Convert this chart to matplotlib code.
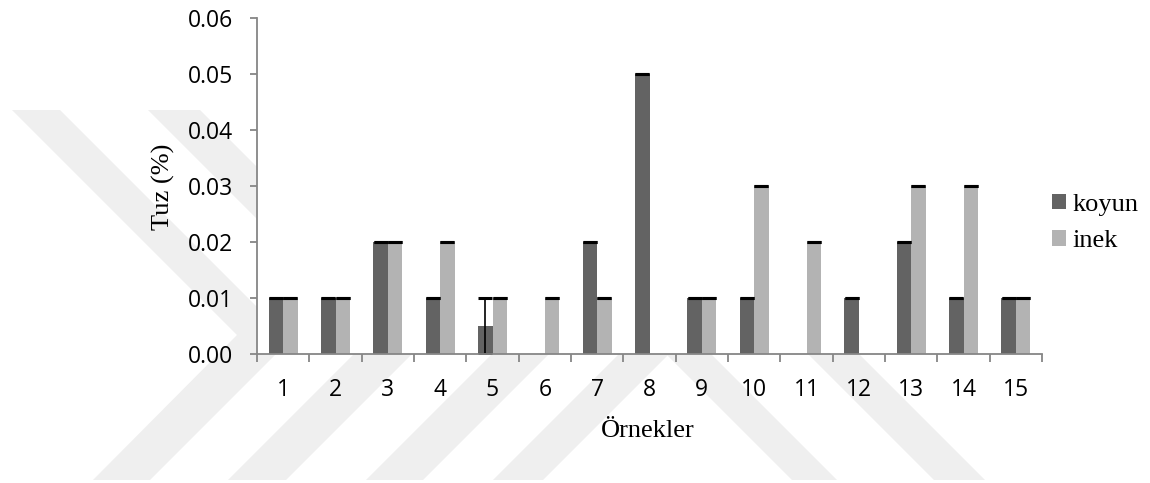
import matplotlib
matplotlib.use('Agg')
import matplotlib.pyplot as plt
from matplotlib.patches import Polygon, Patch
from matplotlib.ticker import FormatStrFormatter, FixedLocator
import numpy as np

# veriler
samples = [str(i) for i in range(1, 16)]
koyun = [0.01, 0.01, 0.02, 0.01, 0.005, 0.0, 0.02, 0.05, 0.01, 0.01, 0.0, 0.01, 0.02, 0.01, 0.01]
inek = [0.01, 0.01, 0.02, 0.02, 0.01, 0.01, 0.01, 0.0, 0.01, 0.03, 0.02, 0.0, 0.03, 0.03, 0.01]
koyun_err = [0, 0, 0, 0, 0.005, 0, 0, 0, 0, 0, 0, 0, 0, 0, 0]
inek_err = [0] * 15
yticks = [0.0, 0.01, 0.02, 0.03, 0.04, 0.05, 0.06]

plt.rcParams['font.serif'] = ['Liberation Serif', 'DejaVu Serif']

W, H = 1150, 483
fig = plt.figure(figsize=(W / 100, H / 100), dpi=100)
fig.patch.set_facecolor('white')


def px(pts):
    return [(x / W, 1 - y / H) for x, y in pts]


# arka plandaki filigran şeritleri (piksel koordinatları)
stripes = [
    [(12, 110), (60, 110), (290, 340), (150, 480), (93, 480), (237, 335)],
    [(148, 110), (200, 110), (428, 338), (286, 480), (228, 480), (373, 335)],
    [(506, 340), (563, 340), (423, 480), (366, 480)],
    [(633, 340), (683, 340), (543, 480), (493, 480)],
    [(652, 340), (697, 340), (837, 480), (792, 480)],
    [(794, 340), (845, 340), (985, 480), (934, 480)],
]
for s in stripes:
    fig.patches.append(Polygon(px(s), closed=True, transform=fig.transFigure,
                               facecolor='#efefef', edgecolor='none', zorder=-1))

ax = fig.add_axes([257 / W, 1 - 354 / H, 785 / W, 336 / H])
ax.set_facecolor('white')

x = np.arange(1, 16)
w = 0.275
c_koyun = '#636363'
c_inek = '#b3b3b3'

ax.bar(x - w / 2, koyun, w, color=c_koyun, zorder=1)
ax.bar(x + w / 2, inek, w, color=c_inek, zorder=1)

# hata çubukları (sıfır olmayan değerler için)
for xs, vals, errs in [(x - w / 2, koyun, koyun_err), (x + w / 2, inek, inek_err)]:
    vals = np.array(vals)
    errs = np.array(errs)
    m = vals > 0
    ax.errorbar(xs[m], vals[m], yerr=errs[m], fmt='none', ecolor='black',
                elinewidth=1.2, capsize=5.0, capthick=2.2, zorder=2)

ax.set_xlim(0.5, 15.5)
ax.set_ylim(0, 0.06)
ax.set_yticks(yticks)
ax.yaxis.set_major_formatter(FormatStrFormatter('%.2f'))
ax.set_xticks(x)
ax.set_xticklabels(samples)
ax.xaxis.set_minor_locator(FixedLocator(np.arange(0.5, 16, 1)))

for sp in ['top', 'right']:
    ax.spines[sp].set_visible(False)
for sp in ['left', 'bottom']:
    ax.spines[sp].set_color('#868686')
    ax.spines[sp].set_linewidth(1.3)

ax.tick_params(axis='x', which='major', length=0, pad=17)
ax.tick_params(axis='x', which='minor', length=6, width=1.3, color='#868686')
ax.tick_params(axis='y', length=5, width=1.3, color='#868686', pad=12)
for lab in ax.get_xticklabels() + ax.get_yticklabels():
    lab.set_fontfamily('Open Sans')
    lab.set_fontsize(16.5)

fig.text(163 / W, 1 - 187 / H, 'Tuz (%)', rotation=90, ha='center', va='center',
         fontfamily='serif', fontsize=19)
fig.text(648 / W, 1 - 431 / H, 'Örnekler', ha='center', va='center',
         fontfamily='serif', fontsize=19)

handles = [Patch(facecolor=c_koyun), Patch(facecolor=c_inek)]
fig.legend(handles, ['koyun', 'inek'], loc='center left',
           bbox_to_anchor=(1052 / W, 1 - 223 / H), frameon=False,
           prop={'family': 'serif', 'size': 19},
           handlelength=0.53, handleheight=0.53, handletextpad=0.25,
           labelspacing=0.55, borderpad=0, borderaxespad=0)

fig.savefig('out.png', dpi=100)
